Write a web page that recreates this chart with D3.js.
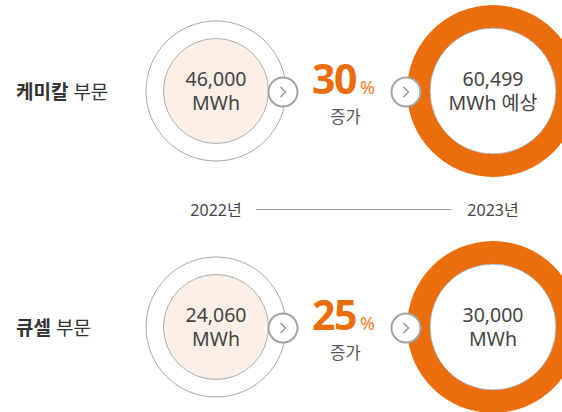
<!DOCTYPE html>
<html>
<head>
<meta charset="utf-8">
<script src="https://cdn.jsdelivr.net/npm/d3@7"></script>
<style>
  body { margin: 0; background: #fff; }
  text { font-family: "Noto Sans", "Noto Sans CJK KR", sans-serif; }
</style>
</head>
<body>
<div id="canvas"></div>
<script>
// data
const sectorBold = ["케미칼", "큐셀"];
const sectorRest = ["부문", "부문"];
const value2022 = [46000, 24060];
const value2023 = [60499, 30000];
const unit2023 = ["MWh 예상", "MWh"];
const growth = [30, 25];
const years = ["2022년", "2023년"];

const W = 562, H = 412;
const orange = "#ec6d0b";
const fmt = d3.format(",");

const rows = d3.range(sectorBold.length);

const y = d3.scalePoint().domain(rows).range([91, 327]);
const x = d3.scaleOrdinal()
    .domain(["label", "y2022", "arrow1", "growth", "arrow2", "y2023"])
    .range([16, 216, 283, 345.5, 406, 493]);

const svg = d3.select("#canvas").append("svg")
    .attr("width", W)
    .attr("height", H);

// year axis line
svg.append("line")
    .attr("x1", 256).attr("x2", 451)
    .attr("y1", 209.5).attr("y2", 209.5)
    .attr("stroke", "#999")
    .attr("stroke-width", 1);

svg.selectAll(".year")
    .data(years)
    .join("text")
    .attr("class", "year")
    .attr("x", (d, i) => x(i === 0 ? "y2022" : "y2023"))
    .attr("y", 215.5)
    .attr("text-anchor", "middle")
    .attr("font-size", 16)
    .attr("fill", "#444")
    .text(d => d);

const row = svg.selectAll(".row")
    .data(rows)
    .join("g")
    .attr("class", "row")
    .attr("transform", d => `translate(0,${y(d)})`);

// sector label
const lab = row.append("text")
    .attr("x", x("label"))
    .attr("y", 7.5)
    .attr("font-size", 19)
    .attr("fill", "#333");
lab.append("tspan").attr("font-weight", "bold").text(d => sectorBold[d]);
lab.append("tspan").text(d => " " + sectorRest[d]);

// two-line value label inside a circle
function valueText(sel, cx, line1, line2) {
    const t = sel.append("text")
        .attr("text-anchor", "middle")
        .attr("font-size", 19.5)
        .attr("fill", "#444");
    t.append("tspan").attr("x", cx).attr("y", -5).text(line1);
    t.append("tspan").attr("x", cx).attr("y", 18.5).text(line2);
}

// 2022 circles
row.append("circle")
    .attr("cx", x("y2022")).attr("cy", 0).attr("r", 70)
    .attr("fill", "none")
    .attr("stroke", "#a8a8a8")
    .attr("stroke-width", 1);

row.append("circle")
    .attr("cx", x("y2022")).attr("cy", 0).attr("r", 52.5)
    .attr("fill", "#fcefe6")
    .attr("stroke", "#9a9a9a")
    .attr("stroke-width", 0.8);

valueText(row, x("y2022"), d => fmt(value2022[d]), "MWh");

// 2023 donut
const arc = d3.arc().innerRadius(63).outerRadius(86).startAngle(0).endAngle(2 * Math.PI);

row.append("path")
    .attr("transform", `translate(${x("y2023")},0)`)
    .attr("d", arc())
    .attr("fill", orange);

row.append("circle")
    .attr("cx", x("y2023")).attr("cy", 0).attr("r", 63)
    .attr("fill", "#fff")
    .attr("stroke", "#9a9a9a")
    .attr("stroke-width", 0.8);

valueText(row, x("y2023"), d => fmt(value2023[d]), d => unit2023[d]);

// growth
const g = row.append("text")
    .attr("x", 312)
    .attr("y", 3)
    .attr("fill", orange);
g.append("tspan")
    .attr("font-size", 41)
    .attr("font-weight", "bold")
    .attr("letter-spacing", -1.5)
    .text(d => growth[d]);
g.append("tspan")
    .attr("dx", 4)
    .attr("font-size", 18)
    .attr("fill", "#f07d25")
    .text("%");

row.append("text")
    .attr("x", x("growth")).attr("y", 31.5)
    .attr("text-anchor", "middle")
    .attr("font-size", 16.5)
    .attr("fill", "#555")
    .text("증가");

// arrow buttons
["arrow1", "arrow2"].forEach(k => {
    const a = row.append("g").attr("transform", `translate(${x(k)},1)`);
    a.append("circle")
        .attr("r", 14.5)
        .attr("fill", "#fff")
        .attr("stroke", "#a3a3a3")
        .attr("stroke-width", 2);
    a.append("path")
        .attr("d", "M-2.5,-5L2.5,0L-2.5,5")
        .attr("fill", "none")
        .attr("stroke", "#999")
        .attr("stroke-width", 1.5);
});
</script>
</body>
</html>
